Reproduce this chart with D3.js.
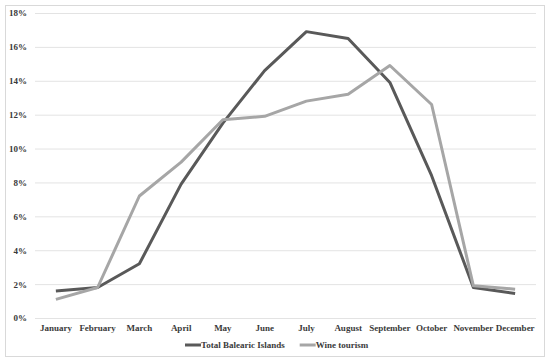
<!DOCTYPE html>
<html>
<head>
<meta charset="utf-8">
<script src="https://cdn.jsdelivr.net/npm/d3@7"></script>
<style>
  body { margin: 0; background: #fff; }
  text { font-family: "Liberation Serif", "Times New Roman", serif; font-weight: bold; fill: #3a3a3a; }
</style>
</head>
<body>
<div id="chart"></div>
<script>
// Plot constants
const WIDTH = 550;
const HEIGHT = 362;

const months = ["January", "February", "March", "April", "May", "June",
  "July", "August", "September", "October", "November", "December"];
const totalBalearic = [1.6, 1.8, 3.2, 7.9, 11.5, 14.6, 16.9, 16.5, 13.9, 8.4, 1.8, 1.45];
const wineTourism = [1.1, 1.8, 7.2, 9.2, 11.7, 11.9, 12.8, 13.2, 14.9, 12.6, 1.9, 1.7];
const yTicks = [0, 2, 4, 6, 8, 10, 12, 14, 16, 18];

const series = [
  {name: "Total Balearic Islands", values: totalBalearic, color: "#595959"},
  {name: "Wine tourism", values: wineTourism, color: "#a6a6a6"},
];

const margin = {left: 35, right: 14, top: 13, bottom: 44};

const svg = d3.select("#chart")
  .append("svg")
  .attr("width", WIDTH)
  .attr("height", HEIGHT);

// outer frame
svg.append("rect")
  .attr("x", 5.5).attr("y", 5.5)
  .attr("width", WIDTH - 11).attr("height", HEIGHT - 11)
  .attr("fill", "none")
  .attr("stroke", "#d9d9d9");

const x = d3.scaleBand()
  .domain(months)
  .range([margin.left, WIDTH - margin.right]);

const y = d3.scaleLinear()
  .domain([0, 18])
  .range([HEIGHT - margin.bottom, margin.top]);

// gridlines
svg.append("g")
  .selectAll("line")
  .data(yTicks)
  .join("line")
  .attr("x1", margin.left)
  .attr("x2", WIDTH - margin.right)
  .attr("y1", d => y(d) + 0.5)
  .attr("y2", d => y(d) + 0.5)
  .attr("stroke", "#e3e3e3");

// y labels
const yAxis = d3.axisLeft(y).tickValues(yTicks).tickSize(0).tickPadding(8)
  .tickFormat(d => d + "%");
svg.append("g")
  .attr("transform", `translate(${margin.left},0)`)
  .call(yAxis)
  .call(g => g.select(".domain").remove())
  .call(g => g.selectAll("text").attr("font-size", 9).attr("fill", "#3a3a3a")
    .style("font-family", "'Liberation Serif', serif").style("font-weight", "bold"));

// x labels
const xAxis = d3.axisBottom(x).tickSize(0).tickPadding(7);
svg.append("g")
  .attr("transform", `translate(0,${y(0)})`)
  .call(xAxis)
  .call(g => g.select(".domain").remove())
  .call(g => g.selectAll("text").attr("font-size", 9).attr("fill", "#3a3a3a")
    .style("font-family", "'Liberation Serif', serif").style("font-weight", "bold"));

// lines
const line = d3.line()
  .x((d, i) => x(months[i]) + x.bandwidth() / 2)
  .y(d => y(d));

svg.append("g")
  .selectAll("path")
  .data(series)
  .join("path")
  .attr("d", d => line(d.values))
  .attr("fill", "none")
  .attr("stroke", d => d.color)
  .attr("stroke-width", 3)
  .attr("stroke-linejoin", "round");

// legend
const legend = svg.append("g").attr("transform", "translate(185,345)");
const item = legend.selectAll("g")
  .data(series)
  .join("g");

item.each(function (d) {
  const gItem = d3.select(this);
  gItem.append("line")
    .attr("x1", 0).attr("x2", 16)
    .attr("stroke", d.color)
    .attr("stroke-width", 3);
  gItem.append("text")
    .attr("x", 16)
    .attr("dy", "0.33em")
    .attr("font-size", 9)
    .text(d.name);
});
// second item goes after the first label
const firstWidth = item.filter((d, i) => i === 0).select("text").node().getComputedTextLength();
item.filter((d, i) => i === 1)
  .attr("transform", `translate(${16 + firstWidth + 15},0)`);
</script>
</body>
</html>
